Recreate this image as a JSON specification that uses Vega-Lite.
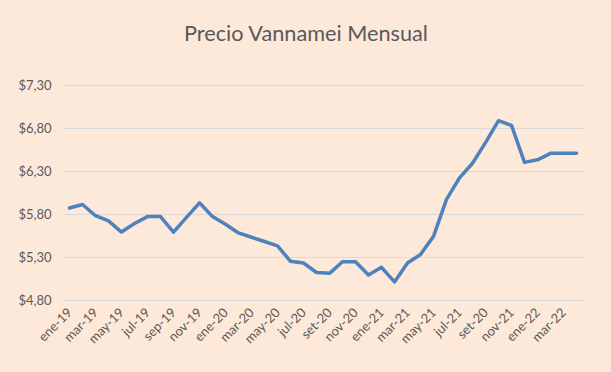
{
  "$schema": "https://vega.github.io/schema/vega-lite/v6.json",
  "width": 520,
  "height": 215,
  "autosize": {"type": "none"},
  "padding": {"left": 63, "top": 85, "right": 28, "bottom": 72},
  "background": "#FDE9D9",
  "title": {
    "text": "Precio Vannamei Mensual",
    "font": "Lato",
    "fontSize": 21.7,
    "fontWeight": "normal",
    "color": "#595959",
    "anchor": "middle",
    "baseline": "alphabetic",
    "offset": 16,
    "dx": -17
  },
  "config": {
    "view": {"stroke": null},
    "font": "Lato"
  },
  "data": {
    "values": [
      {"mes": "ene-19", "precio": 5.87},
      {"mes": "feb-19", "precio": 5.91},
      {"mes": "mar-19", "precio": 5.78},
      {"mes": "abr-19", "precio": 5.72},
      {"mes": "may-19", "precio": 5.59},
      {"mes": "jun-19", "precio": 5.69},
      {"mes": "jul-19", "precio": 5.77},
      {"mes": "ago-19", "precio": 5.77},
      {"mes": "sep-19", "precio": 5.59},
      {"mes": "oct-19", "precio": 5.76},
      {"mes": "nov-19", "precio": 5.93},
      {"mes": "dic-19", "precio": 5.77},
      {"mes": "ene-20", "precio": 5.68},
      {"mes": "feb-20", "precio": 5.58},
      {"mes": "mar-20", "precio": 5.53},
      {"mes": "abr-20", "precio": 5.48},
      {"mes": "may-20", "precio": 5.43},
      {"mes": "jun-20", "precio": 5.25},
      {"mes": "jul-20", "precio": 5.23},
      {"mes": "ago-20", "precio": 5.12},
      {"mes": "set-20", "precio": 5.11},
      {"mes": "oct-20", "precio": 5.245},
      {"mes": "nov-20", "precio": 5.245},
      {"mes": "dic-20", "precio": 5.09},
      {"mes": "ene-21", "precio": 5.18},
      {"mes": "feb-21", "precio": 5.01},
      {"mes": "mar-21", "precio": 5.23},
      {"mes": "abr-21", "precio": 5.33},
      {"mes": "may-21", "precio": 5.54},
      {"mes": "jun-21", "precio": 5.97},
      {"mes": "jul-21", "precio": 6.22},
      {"mes": "ago-21", "precio": 6.39},
      {"mes": "set-21", "precio": 6.63},
      {"mes": "oct-21", "precio": 6.885},
      {"mes": "nov-21", "precio": 6.83},
      {"mes": "dic-21", "precio": 6.40},
      {"mes": "ene-22", "precio": 6.43},
      {"mes": "feb-22", "precio": 6.505},
      {"mes": "mar-22", "precio": 6.505},
      {"mes": "abr-22", "precio": 6.505}
    ]
  },
  "mark": {
    "type": "line",
    "color": "#4F81BD",
    "strokeWidth": 3.5,
    "strokeJoin": "round",
    "strokeCap": "round"
  },
  "encoding": {
    "x": {
      "field": "mes",
      "type": "ordinal",
      "sort": null,
      "scale": {"type": "point", "padding": 0.5},
      "axis": {
        "title": null,
        "values": ["ene-19", "mar-19", "may-19", "jul-19", "sep-19", "nov-19", "ene-20", "mar-20", "may-20", "jul-20", "set-20", "nov-20", "ene-21", "mar-21", "may-21", "jul-21", "set-21", "nov-21", "ene-22", "mar-22"],
        "labelExpr": "datum.value == 'set-21' ? 'set-20' : datum.value",
        "labelAngle": -45,
        "labelAlign": "right",
        "labelBaseline": "middle",
        "labelFont": "Lato",
        "labelFontSize": 13,
        "labelColor": "#595959",
        "labelPadding": 10,
        "labelOverlap": false,
        "ticks": false,
        "domain": false,
        "grid": false
      }
    },
    "y": {
      "field": "precio",
      "type": "quantitative",
      "scale": {"domain": [4.8, 7.3], "zero": false, "nice": false},
      "axis": {
        "title": null,
        "values": [4.8, 5.3, 5.8, 6.3, 6.8, 7.3],
        "labelExpr": "'$' + replace(format(datum.value, '.2f'), '.', ',')",
        "labelFont": "Lato",
        "labelFontSize": 13,
        "labelColor": "#595959",
        "labelPadding": 12,
        "ticks": false,
        "domain": false,
        "grid": true,
        "gridColor": "#D9D9D9",
        "gridWidth": 1
      }
    }
  }
}
